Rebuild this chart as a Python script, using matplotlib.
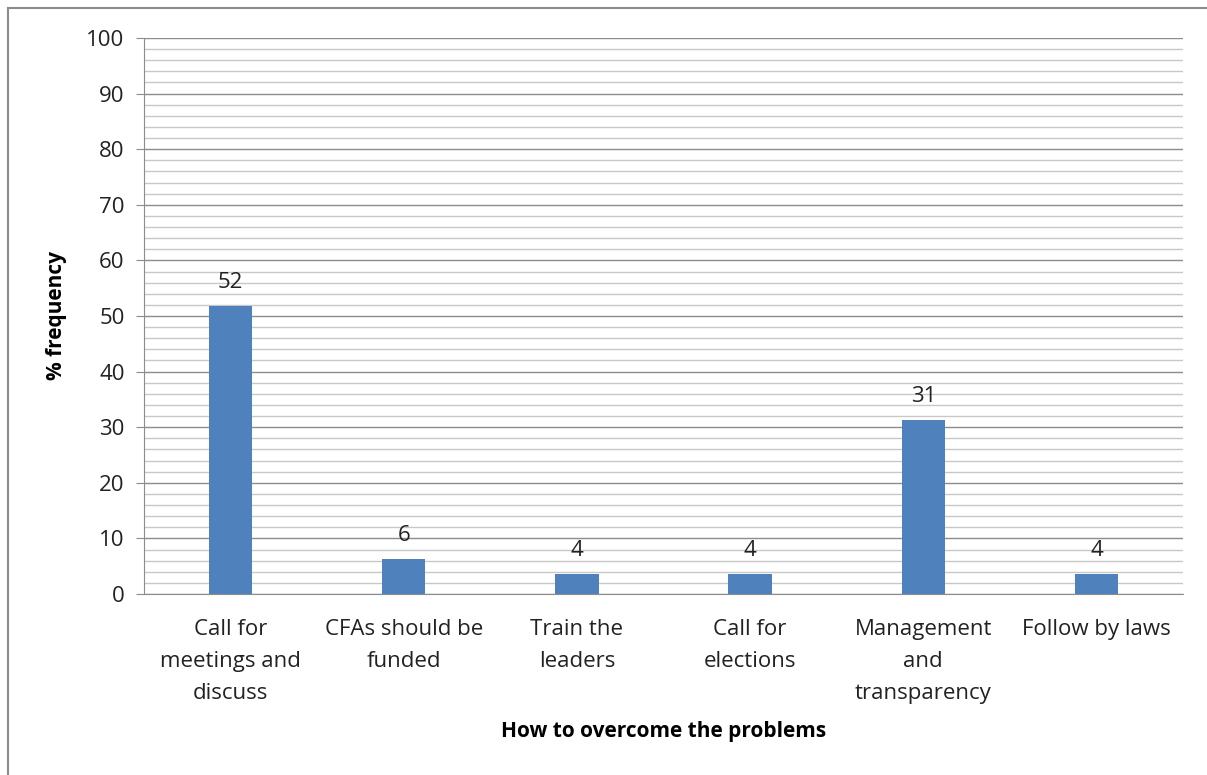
import numpy as np
import matplotlib.pyplot as plt
from matplotlib.lines import Line2D

categories = ['Call for\nmeetings and\ndiscuss', 'CFAs should be\nfunded', 'Train the\nleaders',
              'Call for\nelections', 'Management\nand\ntransparency', 'Follow by laws']
values = [51.8, 6.3, 3.6, 3.6, 31.3, 3.6]
labels = ['52', '6', '4', '4', '31', '4']

plt.rcParams['font.family'] = ['Open Sans', 'DejaVu Sans']

fig = plt.figure(figsize=(12.07, 7.75), dpi=100)
ax = fig.add_axes([144 / 1207, 181 / 775, (1183 - 144) / 1207, (594 - 38) / 775])

idx = np.arange(len(categories))
bars = ax.bar(idx, values, width=0.25, color='#4f81bd', zorder=3)

for b, lab in zip(bars, labels):
    ax.text(b.get_x() + b.get_width() / 2, b.get_height() + 2.3, lab,
            ha='center', va='bottom', fontsize=16, color='#222222')

ax.set_xlim(-0.5, len(categories) - 0.5)
ax.set_ylim(0, 100)
ax.set_yticks(np.arange(0, 101, 10))
ax.set_yticks(np.arange(0, 101, 2), minor=True)
ax.grid(axis='y', which='major', color='#8c8c8c', linewidth=1.0, zorder=0)
ax.grid(axis='y', which='minor', color='#c8c8c8', linewidth=1.0, zorder=0)
ax.tick_params(axis='y', which='major', labelsize=16, length=6, color='#8c8c8c', pad=8, labelcolor='#222222')
ax.tick_params(axis='y', which='minor', length=0)

ax.set_xticks(idx)
ax.set_xticklabels(categories, fontsize=16, linespacing=1.7, color='#222222')
ax.tick_params(axis='x', length=0, pad=18)

for s in ['top', 'right']:
    ax.spines[s].set_visible(False)
ax.spines['left'].set_color('#8c8c8c')
ax.spines['bottom'].set_color('#8c8c8c')

ax.set_ylabel('% frequency', fontsize=15, fontweight='bold', labelpad=14)
ax.set_xlabel('How to overcome the problems', fontsize=15, fontweight='bold', labelpad=12)

# outer chart frame (left and top edges)
fig.add_artist(Line2D([8 / 1207, 8 / 1207], [0, 1 - 8 / 775], transform=fig.transFigure, color='#8c8c8c', lw=1.5))
fig.add_artist(Line2D([8 / 1207, 1], [1 - 8 / 775, 1 - 8 / 775], transform=fig.transFigure, color='#8c8c8c', lw=1.5))

plt.savefig('out.png')
